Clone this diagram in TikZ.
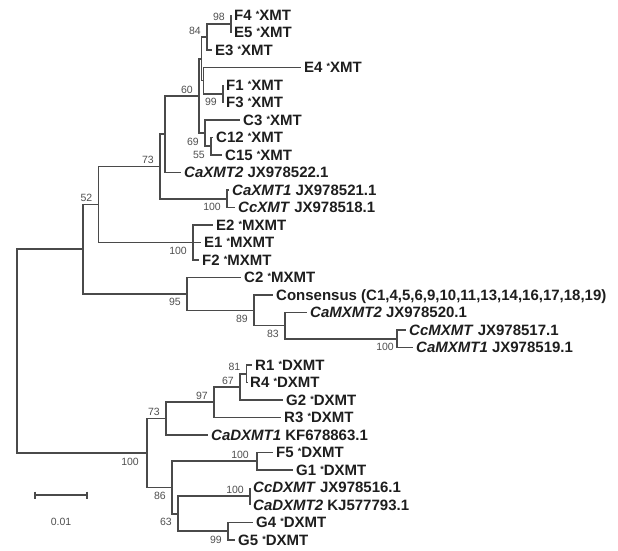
\documentclass[tikz,border=0pt]{standalone}
\usepackage{fontspec}
\setmainfont{Liberation Sans}
\definecolor{branchgray}{HTML}{4A4A4A}
\definecolor{labelgray}{HTML}{1E1E1E}
\definecolor{bootgray}{HTML}{505050}
\newcommand{\mk}{\raisebox{3pt}{\fontsize{9}{9}\selectfont *}}
\begin{document}
\begin{tikzpicture}[x=1pt, y=-1pt,
  branch/.style={draw=branchgray, line width=1.6pt},
  leaf/.style={anchor=west, inner sep=0pt, xshift=3pt, text=labelgray,
    font=\fontsize{15}{18}\selectfont\bfseries, text height=10.7pt, text depth=0pt},
  boot/.style={inner sep=0pt, text=bootgray, font=\fontsize{10.5}{12}\selectfont},
  bsup/.style={boot, anchor=south east, xshift=-6pt, yshift=2.5pt},
  bsdn/.style={boot, anchor=north east, xshift=-6pt, yshift=-4.5pt}]
  \fill[white] (0,0) rectangle (618,550);
  \useasboundingbox (0,0) rectangle (618,550);
  % inner nodes
  \coordinate (root) at (17,351);   \coordinate (up) at (83,249.2);
  \coordinate (xm) at (98.5,204.5); \coordinate (xa) at (160,166.5);
  \coordinate (xb) at (165,134.2);  \coordinate (xc) at (199,95.9);
  \coordinate (xd) at (201.5,58.75); \coordinate (xe) at (207,36.9);
  \coordinate (xf) at (231,23.75);  \coordinate (xg) at (203.5,80.6);
  \coordinate (xh) at (223,93.75);  \coordinate (xi) at (205,133.1);
  \coordinate (xj) at (211,146.25); \coordinate (xk) at (227,198.75);
  \coordinate (em) at (193,242.5);
  \coordinate (mx) at (187,293.9);  \coordinate (my) at (254,310.3);
  \coordinate (mz) at (285,325.6);  \coordinate (mw) at (397,338.75);
  \coordinate (dx) at (147,453);    \coordinate (da) at (166,418.6);
  \coordinate (db) at (214,402.2);  \coordinate (dc) at (240,386.9);
  \coordinate (dd) at (246.5,373.75); \coordinate (de) at (172,487.5);
  \coordinate (df) at (257,461.25); \coordinate (dg) at (178,513.75);
  \coordinate (dh) at (250,496.25); \coordinate (di) at (228,531.25);
  % leaves
  \coordinate (lF4) at (231,15);      \coordinate (lE5) at (231,32.5);
  \coordinate (lE3) at (212,50);      \coordinate (lE4) at (301,67.5);
  \coordinate (lF1) at (223,85);      \coordinate (lF3) at (223,102.5);
  \coordinate (lC3) at (240,120);     \coordinate (lC12) at (213,137.5);
  \coordinate (lC15) at (222,155);    \coordinate (lCaXMT2) at (181,172.5);
  \coordinate (lCaXMT1) at (229,190); \coordinate (lCcXMT) at (235,207.5);
  \coordinate (lE2) at (213,225);     \coordinate (lE1) at (201,242.5);
  \coordinate (lF2) at (199,260);     \coordinate (lC2) at (241,277.5);
  \coordinate (lCons) at (273,295);   \coordinate (lCaMXMT2) at (307,312.5);
  \coordinate (lCcMXMT) at (406,330); \coordinate (lCaMXMT1) at (413,347.5);
  \coordinate (lR1) at (252,365);     \coordinate (lR4) at (247,382.5);
  \coordinate (lG2) at (283,400);     \coordinate (lR3) at (281,417.5);
  \coordinate (lCaDXMT1) at (208,435); \coordinate (lF5) at (273,452.5);
  \coordinate (lG1) at (293,470);     \coordinate (lCcDXMT) at (250,487.5);
  \coordinate (lCaDXMT2) at (250,505); \coordinate (lG4) at (253,522.5);
  \coordinate (lG5) at (235,540);
  % branches
  \draw[branch] (root) |- (up);   \draw[branch] (root) |- (dx);
  \draw[branch] (up) |- (xm);     \draw[branch] (up) |- (mx);
  \draw[branch] (xm) |- (xa);     \draw[branch] (xm) |- (em);
  \draw[branch] (xa) |- (xb);     \draw[branch] (xa) |- (xk);
  \draw[branch] (xb) |- (xc);     \draw[branch] (xb) |- (lCaXMT2);
  \draw[branch] (xc) |- (xd);     \draw[branch] (xc) |- (xi);
  \draw[branch] (xd) |- (xe);     \draw[branch] (xd) |- (xg);
  \draw[branch] (xe) |- (xf);     \draw[branch] (xe) |- (lE3);
  \draw[branch] (xf) |- (lF4);    \draw[branch] (xf) |- (lE5);
  \draw[branch] (xg) |- (lE4);    \draw[branch] (xg) |- (xh);
  \draw[branch] (xh) |- (lF1);    \draw[branch] (xh) |- (lF3);
  \draw[branch] (xi) |- (lC3);    \draw[branch] (xi) |- (xj);
  \draw[branch] (xj) |- (lC12);   \draw[branch] (xj) |- (lC15);
  \draw[branch] (xk) |- (lCaXMT1); \draw[branch] (xk) |- (lCcXMT);
  \draw[branch] (em) |- (lE2);    \draw[branch] (em) |- (lE1);
  \draw[branch] (em) |- (lF2);
  \draw[branch] (mx) |- (lC2);    \draw[branch] (mx) |- (my);
  \draw[branch] (my) |- (lCons);  \draw[branch] (my) |- (mz);
  \draw[branch] (mz) |- (lCaMXMT2); \draw[branch] (mz) |- (mw);
  \draw[branch] (mw) |- (lCcMXMT); \draw[branch] (mw) |- (lCaMXMT1);
  \draw[branch] (dx) |- (da);     \draw[branch] (dx) |- (de);
  \draw[branch] (da) |- (db);     \draw[branch] (da) |- (lCaDXMT1);
  \draw[branch] (db) |- (dc);     \draw[branch] (db) |- (lR3);
  \draw[branch] (dc) |- (dd);     \draw[branch] (dc) |- (lG2);
  \draw[branch] (dd) |- (lR1);    \draw[branch] (dd) |- (lR4);
  \draw[branch] (de) |- (df);     \draw[branch] (de) |- (dg);
  \draw[branch] (df) |- (lF5);    \draw[branch] (df) |- (lG1);
  \draw[branch] (dg) |- (dh);     \draw[branch] (dg) |- (di);
  \draw[branch] (dh) |- (lCcDXMT); \draw[branch] (dh) |- (lCaDXMT2);
  \draw[branch] (di) |- (lG4);    \draw[branch] (di) |- (lG5);
  % leaf labels
  \node[leaf] (tF4) at (lF4) {F4 \mk XMT};
  \node[leaf] (tE5) at (lE5) {E5 \mk XMT};
  \node[leaf] (tE3) at (lE3) {E3 \mk XMT};
  \node[leaf] (tE4) at (lE4) {E4 \mk XMT};
  \node[leaf] (tF1) at (lF1) {F1 \mk XMT};
  \node[leaf] (tF3) at (lF3) {F3 \mk XMT};
  \node[leaf] (tC3) at (lC3) {C3 \mk XMT};
  \node[leaf] (tC12) at (lC12) {C12 \mk XMT};
  \node[leaf] (tC15) at (lC15) {C15 \mk XMT};
  \node[leaf] (tCaXMT2) at (lCaXMT2) {\textit{CaXMT2} JX978522.1};
  \node[leaf] (tCaXMT1) at (lCaXMT1) {\textit{CaXMT1} JX978521.1};
  \node[leaf] (tCcXMT) at (lCcXMT) {\textit{CcXMT} JX978518.1};
  \node[leaf] (tE2) at (lE2) {E2 \mk MXMT};
  \node[leaf] (tE1) at (lE1) {E1 \mk MXMT};
  \node[leaf] (tF2) at (lF2) {F2 \mk MXMT};
  \node[leaf] (tC2) at (lC2) {C2 \mk MXMT};
  \node[leaf] (tCons) at (lCons) {Consensus (C1,4,5,6,9,10,11,13,14,16,17,18,19)};
  \node[leaf] (tCaMXMT2) at (lCaMXMT2) {\textit{CaMXMT2} JX978520.1};
  \node[leaf] (tCcMXMT) at (lCcMXMT) {\textit{CcMXMT} JX978517.1};
  \node[leaf] (tCaMXMT1) at (lCaMXMT1) {\textit{CaMXMT1} JX978519.1};
  \node[leaf] (tR1) at (lR1) {R1 \mk DXMT};
  \node[leaf] (tR4) at (lR4) {R4 \mk DXMT};
  \node[leaf] (tG2) at (lG2) {G2 \mk DXMT};
  \node[leaf] (tR3) at (lR3) {R3 \mk DXMT};
  \node[leaf] (tCaDXMT1) at (lCaDXMT1) {\textit{CaDXMT1} KF678863.1};
  \node[leaf] (tF5) at (lF5) {F5 \mk DXMT};
  \node[leaf] (tG1) at (lG1) {G1 \mk DXMT};
  \node[leaf] (tCcDXMT) at (lCcDXMT) {\textit{CcDXMT} JX978516.1};
  \node[leaf] (tCaDXMT2) at (lCaDXMT2) {\textit{CaDXMT2} KJ577793.1};
  \node[leaf] (tG4) at (lG4) {G4 \mk DXMT};
  \node[leaf] (tG5) at (lG5) {G5 \mk DXMT};
  % bootstrap values
  \node[bsup] (bxf) at (xf) {98};
  \node[bsup] (bxe) at (xe) {84};
  \node[bsup] (bxc) at (xc) {60};
  \node[bsdn] (bxh) at (xh) {99};
  \node[bsdn] (bxi) at (xi) {69};
  \node[bsdn] (bxj) at (xj) {55};
  \node[bsup] (bxa) at (xa) {73};
  \node[bsdn] (bxk) at (xk) {100};
  \node[bsup] (bxm) at (xm) {52};
  \node[bsdn] (bem) at (em) {100};
  \node[bsdn] (bmx) at (mx) {95};
  \node[bsdn] (bmy) at (my) {89};
  \node[bsdn] (bmz) at (mz) {83};
  \node[bsdn, xshift=3pt] (bmw) at (mw) {100};
  \node[bsup] (bda) at (da) {73};
  \node[bsup] (bdb) at (db) {97};
  \node[bsup] (bdc) at (dc) {67};
  \node[bsup] (bdd) at (dd) {81};
  \node[bsdn, xshift=-2pt] (bdx) at (dx) {100};
  \node[bsdn] (bde) at (de) {86};
  \node[bsup, xshift=-2pt] (bdf) at (df) {100};
  \node[bsdn] (bdg) at (dg) {63};
  \node[bsup] (bdh) at (dh) {100};
  \node[bsdn] (bdi) at (di) {99};
  % scale bar
  \coordinate (sbl) at (35,495); \coordinate (sbr) at (87,495);
  \draw[branch, line width=1.2pt] (sbl) -- (sbr);
  \draw[branch, line width=1.2pt] ([yshift=3.5pt]sbl) -- ([yshift=-3.5pt]sbl);
  \draw[branch, line width=1.2pt] ([yshift=3.5pt]sbr) -- ([yshift=-3.5pt]sbr);
  \node[boot] (sbt) at (61,522) {0.01};
\end{tikzpicture}
\end{document}
